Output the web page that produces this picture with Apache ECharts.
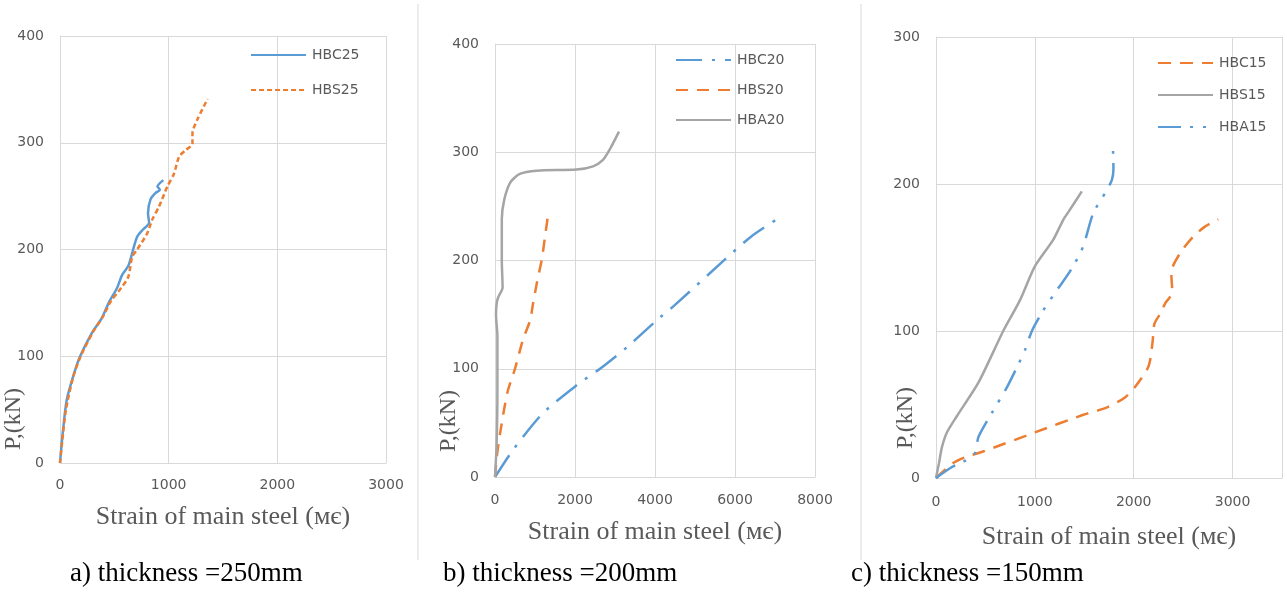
<!DOCTYPE html>
<html>
<head>
<meta charset="utf-8">
<script src="https://cdn.jsdelivr.net/npm/echarts@6/dist/echarts.min.js"></script>
<style>html,body{margin:0;padding:0;background:#fff}#c{width:1287px;height:596px}</style>
</head>
<body>
<div id="c"></div>
<script>
// ---- data: [strain (με), load P (kN)] ----
const HBC25 = [[0,0],[25,28],[62,59],[130,84],[185,100],[294,122],[386,136],[448,150],[525,164],[571,176],[630,185],[673,200],[710,212],[757,218],[820,225],[810,234],[833,247],[880,253],[919,256],[897,259],[951,265]];
const HBS25 = [[0,0],[20,20],[55,50],[120,80],[190,100],[300,122],[400,138],[470,152],[540,161],[627,174],[664,193],[710,200],[802,215],[849,228],[910,240],[988,259],[1049,271],[1096,287],[1155,293],[1219,299],[1219,309],[1265,322],[1358,341]];

const HBC20 = [[0,0],[450,25],[1200,59],[2050,85],[2625,100],[3300,120],[4050,145],[4500,159],[5750,201],[6400,222],[7125,240]];
const HBS20 = [[0,0],[50,20],[130,41],[310,78],[500,100],[700,127],[880,145],[950,160],[1050,180],[1170,201],[1250,222],[1330,243]];
const HBA20 = [[0,0],[40,30],[60,80],[60,130],[25,150],[40,160],[80,166],[190,175],[170,200],[170,238],[230,256],[380,272],[620,280],[1040,283],[2040,284],[2450,287],[2700,293],[2875,303],[3100,319]];

const HBC15 = [[0,0],[170,10],[290,14],[475,18],[1000,31],[1490,43],[1730,48],[1915,55],[2015,62],[2150,76],[2190,92],[2210,105],[2270,112],[2320,119],[2390,126],[2380,140],[2470,153],[2600,164],[2720,171],[2855,176]];
const HBS15 = [[0,0],[30,10],[60,21],[110,31],[210,42],[430,65],[680,100],[850,121],[1000,144],[1185,162],[1290,176],[1340,181],[1475,195]];
const HBA15 = [[0,0],[150,7],[300,12],[395,17],[430,28],[580,46],[720,62],[900,87],[970,100],[1085,114],[1225,128],[1340,139],[1460,153],[1510,162],[1590,180],[1730,196],[1780,203],[1795,210],[1790,224]];

const xTitle = 'Strain of main steel (\u043c\u0454)';
const yTitle = 'P,(kN)';
const captions = ['a) thickness =250mm', 'b) thickness =200mm', 'c) thickness =150mm'];

const BLUE = '#5B9BD5', ORANGE = '#ED7D31', GRAY = '#A5A5A5';
const GRID = '#D9D9D9', TXT = '#595959';
const SANS = 'DejaVu Sans', SERIF = 'Liberation Serif';

function xAx(gi, max, interval, gap, margin) {
  return {
    type: 'value', gridIndex: gi, min: 0, max: max, interval: interval,
    axisLine: {show: true, lineStyle: {color: GRID, width: 1}},
    axisTick: {show: false},
    splitLine: {show: true, lineStyle: {color: GRID, width: 1}},
    axisLabel: {color: TXT, fontFamily: SANS, fontSize: 14, margin: margin,
      showMaxLabel: max % interval === 0, formatter: function (v) { return String(v); }},
    name: xTitle, nameLocation: 'middle', nameGap: gap,
    nameTextStyle: {color: TXT, fontFamily: SERIF, fontSize: 26}
  };
}
function yAx(gi, max) {
  return {
    type: 'value', gridIndex: gi, min: 0, max: max, interval: 100,
    axisLine: {show: true, lineStyle: {color: GRID, width: 1}},
    axisTick: {show: false},
    splitLine: {show: true, lineStyle: {color: GRID, width: 1}},
    axisLabel: {color: TXT, fontFamily: SANS, fontSize: 14, margin: 16}
  };
}
function ser(name, data, gi, color, type) {
  return {
    name: name, type: 'line', data: data, xAxisIndex: gi, yAxisIndex: gi,
    showSymbol: false, symbol: 'none', smooth: 0.25,
    lineStyle: {color: color, width: 2.5, type: type},
    itemStyle: {color: color}
  };
}
function leg(names, left, top, gap) {
  return {
    data: names, orient: 'vertical', left: left, top: top, itemGap: gap,
    itemWidth: 55, itemHeight: 14, padding: 0,
    itemStyle: {opacity: 0},
    textStyle: {color: TXT, fontFamily: SANS, fontSize: 14, padding: [0,0,0,1]}
  };
}
function yName(x, y) {
  return {type: 'text', x: x, y: y, rotation: Math.PI / 2,
    style: {text: yTitle, fill: TXT, font: '24px "Liberation Serif"', align: 'center', verticalAlign: 'middle'}};
}
function sep(x) {
  return {type: 'line', shape: {x1: x, y1: 4, x2: x, y2: 560}, style: {stroke: GRID, lineWidth: 1}};
}

const chart = echarts.init(document.getElementById('c'));
chart.setOption({
  backgroundColor: '#fff',
  animation: false,
  title: [
    {text: captions[0], left: 70, top: 560, padding: 0, textStyle: {fontFamily: SERIF, fontSize: 27, fontWeight: 'normal', color: '#000'}},
    {text: captions[1], left: 443, top: 560, padding: 0, textStyle: {fontFamily: SERIF, fontSize: 27, fontWeight: 'normal', color: '#000'}},
    {text: captions[2], left: 851, top: 560, padding: 0, textStyle: {fontFamily: SERIF, fontSize: 27, fontWeight: 'normal', color: '#000'}}
  ],
  grid: [
    {left: 60, right: 901, top: 36, bottom: 133, containLabel: false},
    {left: 495, right: 472, top: 44, bottom: 119, containLabel: false},
    {left: 936, right: 5, top: 37, bottom: 118, containLabel: false}
  ],
  xAxis: [xAx(0, 3000, 1000, 41, 15), xAx(1, 8000, 2000, 42, 16), xAx(2, 3500, 1000, 46, 17)],
  yAxis: [yAx(0, 400), yAx(1, 400), yAx(2, 300)],
  legend: [
    leg(['HBC25', 'HBS25'], 250, 48, 21),
    leg(['HBC20', 'HBS20', 'HBA20'], 675, 53, 16),
    leg(['HBC15', 'HBS15', 'HBA15'], 1157, 56, 18)
  ],
  series: [
    ser('HBC25', HBC25, 0, BLUE, 'solid'),
    ser('HBS25', HBS25, 0, ORANGE, [5, 3]),
    ser('HBC20', HBC20, 1, BLUE, [26, 10, 3, 10]),
    ser('HBS20', HBS20, 1, ORANGE, [12, 9]),
    ser('HBA20', HBA20, 1, GRAY, 'solid'),
    ser('HBC15', HBC15, 2, ORANGE, [13, 9]),
    ser('HBS15', HBS15, 2, GRAY, 'solid'),
    ser('HBA15', HBA15, 2, BLUE, [23, 9, 3, 10, 3, 10])
  ],
  graphic: [sep(418), sep(861), yName(14, 419), yName(449, 421), yName(906, 418)]
});
</script>
</body>
</html>
